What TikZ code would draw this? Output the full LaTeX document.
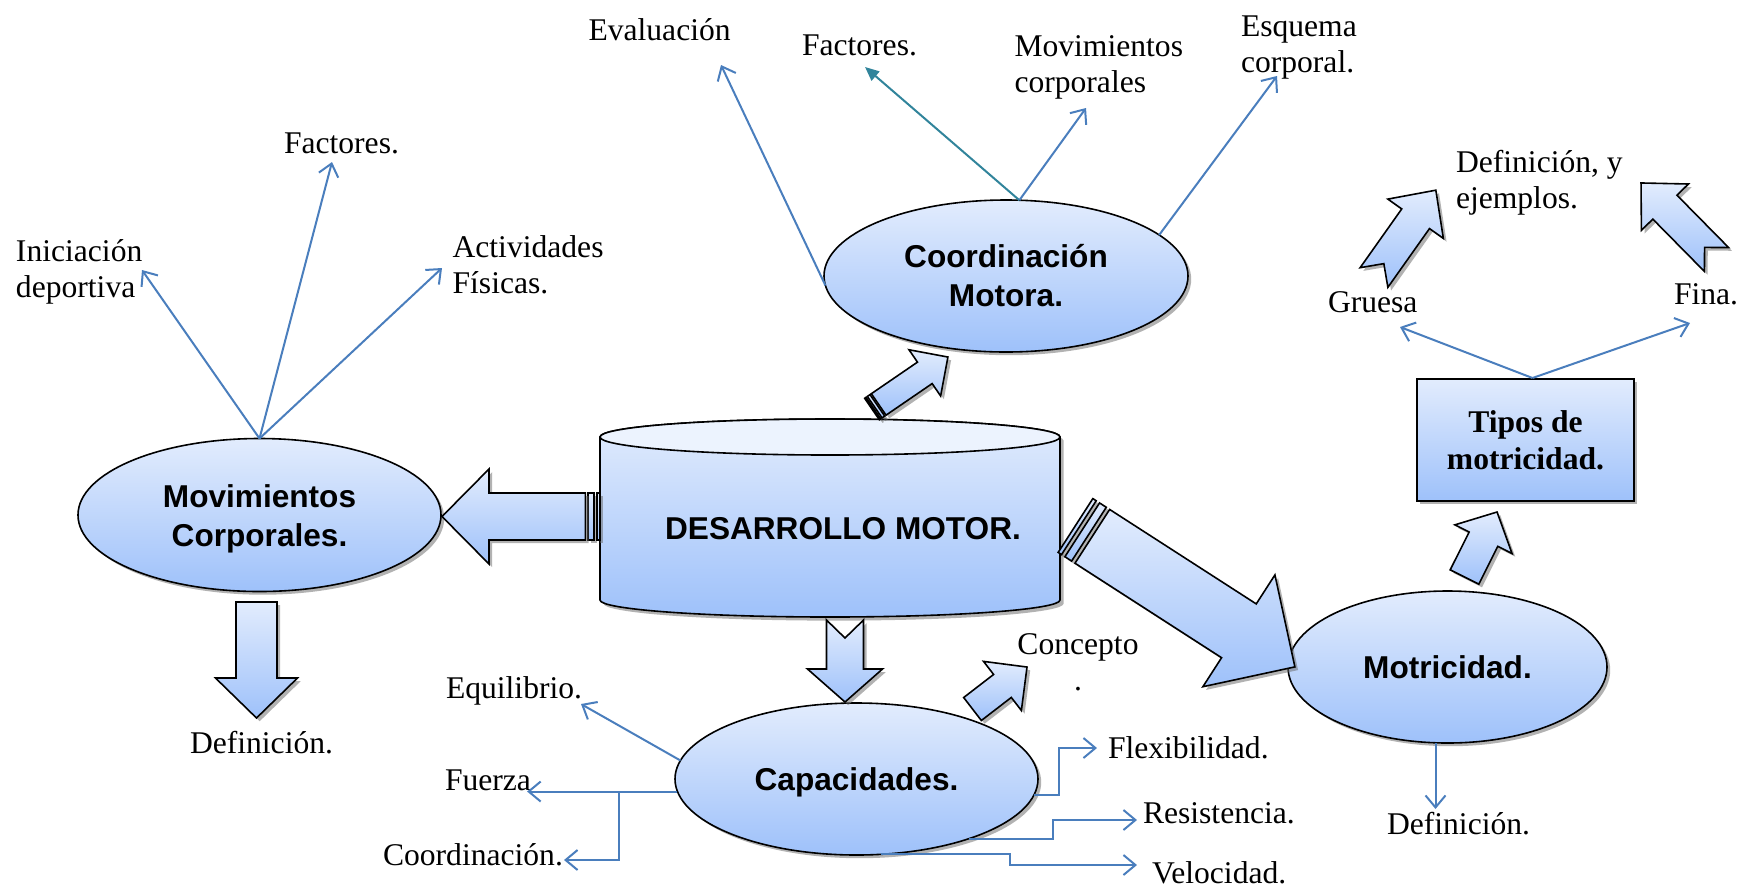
\documentclass[tikz,border=0pt]{standalone}
\usepackage{fontspec}
\setmainfont{Liberation Serif}
\newfontfamily\headfont{Liberation Sans}
\usetikzlibrary{arrows.meta,shapes.geometric,shadows}

\definecolor{paleTop}{RGB}{226,236,253}
\definecolor{paleBottom}{RGB}{158,193,250}
\definecolor{lidFill}{RGB}{236,243,254}
\definecolor{linkBlue}{RGB}{74,126,189}
\definecolor{linkTeal}{RGB}{49,132,155}

\tikzset{
  softshadow/.style={fill=black!60, fill opacity=0.5, draw=none},
  bodyfill/.style={draw=black, line width=0.8pt, line join=miter, top color=paleTop, bottom color=paleBottom},
  bubble/.style={ellipse, bodyfill, drop shadow={shadow xshift=1.6pt, shadow yshift=-1.6pt, fill=black!60, opacity=0.5},
    inner sep=0pt, outer sep=0pt, align=center, font=\headfont\bfseries\fontsize{15.8}{19.5}\selectfont},
  tag/.style={inner sep=0pt, outer sep=0pt, align=left, anchor=base west, font=\fontsize{15.8}{18}\selectfont},
  link/.style={draw=linkBlue, line width=1pt, -{Straight Barb[length=6pt,width=10pt]}},
  tealink/.style={draw=linkTeal, line width=1pt, -{Triangle[length=7pt,width=6pt]}},
}

% Block arrow: #1 tail centre, #2 direction, #3 length, #4 shaft half width,
% #5 head half width, #6 head length, #7 tail notch depth, #8 shaft start
\newcommand{\blockarrow}[8]{%
  \begin{scope}[shift={#1}, xshift=1.6pt, yshift=-1.6pt, rotate=#2]
    \path[softshadow] (#8,-#4) -- ({#3-#6},-#4) -- ({#3-#6},-#5) -- (#3,0)
      -- ({#3-#6},#5) -- ({#3-#6},#4) -- (#8,#4) -- ({#8+#7},0) -- cycle;
  \end{scope}
  \begin{scope}[shift={#1}, rotate=#2]
    \path[bodyfill] (#8,-#4) -- ({#3-#6},-#4) -- ({#3-#6},-#5) -- (#3,0)
      -- ({#3-#6},#5) -- ({#3-#6},#4) -- (#8,#4) -- ({#8+#7},0) -- cycle;
  \end{scope}}

% Two stripes at the tail of a striped arrow: #1 tail centre, #2 direction, #3 shaft half width
\newcommand{\tailstripes}[3]{%
  \begin{scope}[shift={#1}, xshift=1.6pt, yshift=-1.6pt, rotate=#2]
    \path[softshadow] (0,-#3) rectangle ({0.125*#3},#3);
    \path[softshadow] ({0.25*#3},-#3) rectangle ({0.5*#3},#3);
  \end{scope}
  \begin{scope}[shift={#1}, rotate=#2]
    \path[bodyfill] (0,-#3) rectangle ({0.125*#3},#3);
    \path[bodyfill] ({0.25*#3},-#3) rectangle ({0.5*#3},#3);
  \end{scope}}

\begin{document}
\begin{tikzpicture}[x=0.5pt, y=-0.5pt]
\useasboundingbox (0,0) rectangle (1740,890);

% central cylinder
\path[softshadow, xshift=1.8pt, yshift=-1.8pt] (600,437) -- (600,600)
  arc[start angle=180, end angle=0, x radius=230, y radius=17] -- (1060,437)
  arc[start angle=0, end angle=-180, x radius=230, y radius=18] -- cycle;
\path[bodyfill] (600,437) -- (600,600)
  arc[start angle=180, end angle=0, x radius=230, y radius=17] -- (1060,437)
  arc[start angle=0, end angle=-180, x radius=230, y radius=18] -- cycle;
\path[draw=black, line width=0.8pt, fill=lidFill] (830,437) ellipse[x radius=230, y radius=18];
\node[font=\headfont\bfseries\fontsize{15.8}{19.5}\selectfont, inner sep=0pt] (dm) at (843,528.5) {DESARROLLO MOTOR.};

% topic ellipses
\node[bubble, minimum width=181.5pt, minimum height=76.5pt] (mov) at (259.5,515) {\\[-4pt]Movimientos\\Corporales.};
\node[bubble, minimum width=182pt, minimum height=76pt] (coord) at (1006,276) {Coordinación\\Motora.};
\node[bubble, minimum width=181.5pt, minimum height=76pt, text depth=0pt] (cap) at (856.5,779) {Capacidades.};
\node[bubble, minimum width=159.5pt, minimum height=76pt] (motr) at (1447.5,667) {Motricidad.};

% types box
\node[rectangle, bodyfill, line width=1pt, drop shadow={shadow xshift=1.6pt, shadow yshift=-1.6pt, fill=black!60, opacity=0.5},
  minimum width=108.5pt, minimum height=61pt, inner sep=0pt, align=center,
  font=\bfseries\fontsize{15.8}{18.5}\selectfont] (tipos) at (1525.5,440) {Tipos de\\motricidad.};

% block arrows
\tailstripes{(600,516.5)}{180}{23.5}
\blockarrow{(600,516.5)}{180}{158}{23.5}{47.5}{47}{0}{14.7}
\tailstripes{(872,409)}{34.4}{13}
\blockarrow{(872,409)}{34.4}{92}{13}{28}{28}{0}{8.1}
\tailstripes{(1075.5,525.5)}{-32.8}{32}
\blockarrow{(1075.5,525.5)}{-32.8}{261}{32}{66.5}{66.6}{0}{20}
\blockarrow{(845,620)}{-90}{82}{18.5}{37.5}{33}{18}{0}
\blockarrow{(972.5,709)}{37.6}{68.8}{14.5}{31}{31}{0}{0}
\blockarrow{(256.5,602)}{-90}{116}{20.5}{41}{40}{0}{0}
\blockarrow{(1464.5,577)}{63.4}{72.7}{16}{32}{30.4}{0}{0}
\blockarrow{(1374,277.5)}{54.7}{107}{17}{34}{35}{17}{0}
\blockarrow{(1716.5,259.5)}{134.6}{107.5}{17}{33}{34}{17}{0}

% labels (multi-line ones are placed by the baseline of their last line)
\node[tag] (iniciacion) at (16,297) {Iniciación\\deportiva};
\node[tag] (factoresA) at (284,153) {Factores.};
\node[tag] (actividades) at (452.6,293) {Actividades\\Físicas.};
\node[tag] (evaluacion) at (588.5,40) {Evaluación};
\node[tag] (factoresB) at (802,55) {Factores.};
\node[tag] (movcorp) at (1014.5,92.5) {Movimientos\\corporales};
\node[tag] (esquema) at (1241,72.5) {Esquema\\corporal.};
\node[tag] (defA) at (190,753) {Definición.};
\node[tag] (equilibrio) at (446,698) {Equilibrio.};
\node[tag] (fuerza) at (445,790) {Fuerza};
\node[tag] (coordlab) at (383,865) {Coordinación.};
\node[tag, align=center, anchor=base] (concepto) at (1078,690) {Concepto\\.};
\node[tag] (flex) at (1108,758) {Flexibilidad.};
\node[tag] (resist) at (1143,823) {Resistencia.};
\node[tag] (veloc) at (1152,883) {Velocidad.};
\node[tag] (defB) at (1387,834) {Definición.};
\node[tag] (gruesa) at (1328,312) {Gruesa};
\node[tag] (fina) at (1674,304) {Fina.};
\node[tag] (defC) at (1456,208) {Definición, y\\ejemplos.};

% arrow ends
\coordinate (iniTip) at (142,270);
\coordinate (facATip) at (332,162);
\coordinate (actTip) at (442,268);
\coordinate (evalTip) at (721,65);
\coordinate (facBTip) at (865,67);
\coordinate (movcTip) at (1086,108);
\coordinate (esqTip) at (1277,76);
\coordinate (equTip) at (581,704);
\coordinate (fork) at (619,791.5);
\coordinate (coorTip) at (564,860);
\coordinate (flexTip) at (1097,748);
\coordinate (resTip) at (1137,820);
\coordinate (velTip) at (1137,865);
\coordinate (grTip) at (1400,327);
\coordinate (fiTip) at (1690,323);

% connectors
\draw[link] (mov.north) -- (iniTip);
\draw[link] (mov.north) -- (facATip);
\draw[link] (mov.north) -- (actTip);
\draw[link] (coord.183) -- (evalTip);
\draw[tealink] (coord.80) -- (facBTip);
\draw[link] (coord.80) -- (movcTip);
\draw[link] (coord.15) -- (esqTip);
\draw[link] (cap.174) -- (equTip);
\draw[link] (cap.184) -- ++(-150.4,0);
\draw[link] (fork) |- (coorTip);
\draw[link] (cap.-5) -- ++(24.5,0) |- (flexTip);
\draw[link] (cap.-28) -- ++(84,0) |- (resTip);
\draw[link] (cap.-72) -- ++(128.6,0) |- (velTip);
\draw[link] ([xshift=-6pt]motr.south) -- ++(0,66);
\draw[link] ([xshift=3.5pt]tipos.north) -- (grTip);
\draw[link] ([xshift=3.5pt]tipos.north) -- (fiTip);
\end{tikzpicture}
\end{document}
